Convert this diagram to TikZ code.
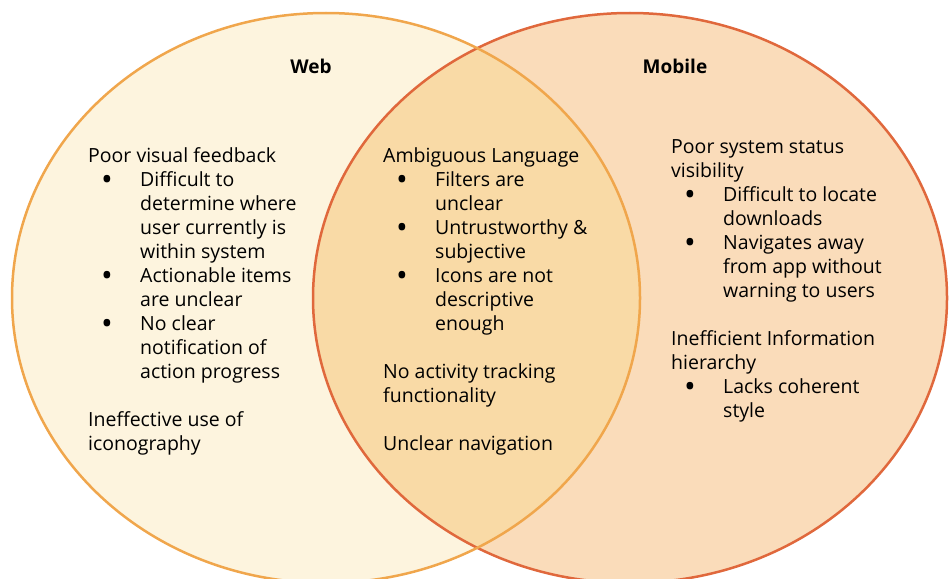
\documentclass[tikz,border=0pt]{standalone}
\usepackage{fontspec}
\setmainfont{Open Sans}

\definecolor{webfill}{HTML}{FDF4DE}
\definecolor{webline}{HTML}{F0A64C}
\definecolor{mobfill}{HTML}{FADCBA}
\definecolor{mobline}{HTML}{E0683C}
\definecolor{bothfill}{HTML}{F9DAA6}

% bullet and hanging indent for the lists
\newcommand{\bul}{\makebox[52pt][l]{\hspace{13pt}\raisebox{-4.5pt}{\scalebox{1.6}{\textbullet}}}}
\newcommand{\ind}{\makebox[52pt]{}}

\begin{document}
\begin{tikzpicture}[x=1pt, y=-1pt,
    ring/.style={line width=2.5pt},
    title/.style={anchor=base, inner sep=0pt, font=\bfseries\fontsize{19}{22}\selectfont},
    notes/.style={align=left, anchor=base west, inner sep=0pt, font=\fontsize{19.5}{24}\selectfont}]
    \useasboundingbox (0,0) rectangle (949,578);

    % the two sets and their overlap
    \fill [webfill] (326,298) ellipse [x radius=314pt, y radius=285pt];
    \fill [mobfill] (630,298) ellipse [x radius=317pt, y radius=285pt];
    \begin{scope}
        \clip (326,298) ellipse [x radius=314pt, y radius=285pt];
        \fill [bothfill] (630,298) ellipse [x radius=317pt, y radius=285pt];
    \end{scope}
    \draw [ring, mobline] (630,298) ellipse [x radius=317pt, y radius=285pt];
    \draw [ring, webline] (326,298) ellipse [x radius=314pt, y radius=285pt];

    \node [title] (web) at (311,74) {Web};
    \node [title] (mobile) at (675,74) {Mobile};

    % lists are placed by the baseline of their last line
    \node [notes] (webonly) at (88,450) {Poor visual feedback\\
        \bul Difficult to\\
        \ind determine where\\
        \ind user currently is\\
        \ind within system\\
        \bul Actionable items\\
        \ind are unclear\\
        \bul No clear\\
        \ind notification of\\
        \ind action progress\\[24pt]
        Ineffective use of\\
        iconography};

    \node [notes] (shared) at (383,450) {Ambiguous Language\\
        \bul Filters are\\
        \ind unclear\\
        \bul Untrustworthy \&\\
        \ind subjective\\
        \bul Icons are not\\
        \ind descriptive\\
        \ind enough\\[24pt]
        No activity tracking\\
        functionality\\[24pt]
        Unclear navigation};

    \node [notes] (mobonly) at (671,417) {Poor system status\\
        visibility\\
        \bul Difficult to locate\\
        \ind downloads\\
        \bul Navigates away\\
        \ind from app without\\
        \ind warning to users\\[24pt]
        Inefficient Information\\
        hierarchy\\
        \bul Lacks coherent\\
        \ind style};
\end{tikzpicture}
\end{document}
